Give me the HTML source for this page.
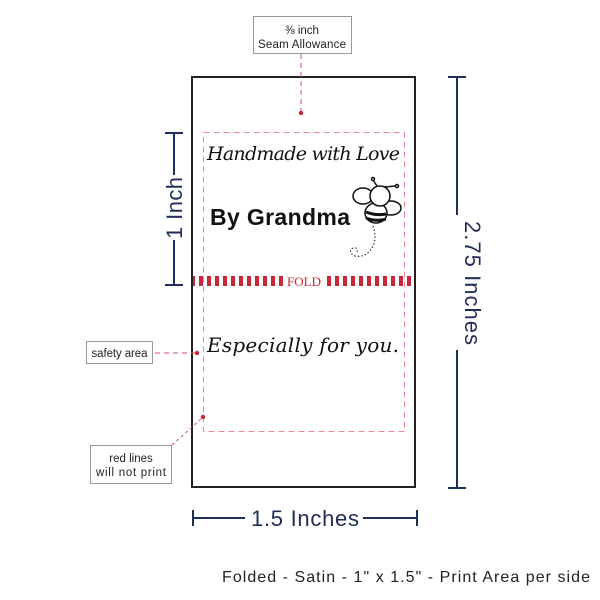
<!DOCTYPE html>
<html><head><meta charset="utf-8"><style>
html,body{margin:0;padding:0;background:#fff;}
svg{display:block;}
</style></head><body>
<svg width="600" height="600" viewBox="0 0 600 600" xmlns="http://www.w3.org/2000/svg" font-family="Liberation Sans, sans-serif">
<defs>
<pattern id="st" x="191" y="0" width="8" height="10" patternUnits="userSpaceOnUse">
<rect x="0" y="0" width="4" height="10" fill="#c8283a"/>
</pattern>
</defs>
<!-- outer label -->
<rect x="192" y="77" width="223" height="410" fill="#fff" stroke="#222" stroke-width="2"/>
<!-- seam allowance box -->
<rect x="253.5" y="16.5" width="98" height="37" fill="#fff" stroke="#999"/>
<text x="302" y="34" font-size="11.5" text-anchor="middle" fill="#222">⅜ inch</text>
<text x="302" y="48" font-size="11.5" text-anchor="middle" fill="#222" textLength="88">Seam Allowance</text>
<line x1="301" y1="54" x2="301" y2="112" stroke="#d05060" stroke-dasharray="5,4"/>
<circle cx="301" cy="113" r="2.2" fill="#c8283a"/>
<!-- safety dashed -->
<rect x="203.5" y="132.5" width="201" height="299" fill="none" stroke="#f08890" stroke-dasharray="6,4"/>
<!-- fold band -->
<rect x="193" y="276" width="92" height="10" fill="url(#st)"/>
<rect x="323" y="276" width="92" height="10" fill="url(#st)"/>
<text x="304" y="286" font-size="13" font-family="Liberation Serif, serif" text-anchor="middle" fill="#c8283a">FOLD</text>
<!-- texts -->
<text x="207" y="160" font-size="19" font-family="DejaVu Serif, serif" font-style="italic" fill="#111" textLength="193">Handmade with Love</text>
<text x="210" y="225" font-size="23" font-weight="bold" fill="#111" textLength="140">By Grandma</text>
<text x="207" y="352" font-size="20" font-family="DejaVu Serif, serif" font-style="italic" fill="#111" textLength="192">Especially for you.</text>
<!-- bee -->
<g fill="#fff" stroke="#111" stroke-width="1.5">
<ellipse cx="363" cy="196" rx="10" ry="8"/>
<ellipse cx="391" cy="208" rx="10" ry="7"/>
<ellipse cx="376" cy="213" rx="11" ry="10"/>
<circle cx="380" cy="196" r="10"/>
<line x1="377" y1="186" x2="373" y2="180"/><circle cx="373" cy="179" r="1.5"/>
<line x1="385" y1="187" x2="395" y2="186"/><circle cx="397" cy="186" r="1.5"/>
</g>
<path d="M366 212 q10 4 20 2 M366 218 q10 4 20 1" stroke="#111" stroke-width="3" fill="none"/>
<path d="M373 226 q4 12 0 20 q-6 12 -18 10 q-8 -4 -2 -8 q5 -1 4 4" stroke="#111" stroke-dasharray="1.5,2" fill="none"/>
<!-- safety area callout -->
<rect x="86.5" y="341.5" width="66" height="22" fill="#fff" stroke="#999"/>
<text x="119.5" y="357" font-size="11.5" text-anchor="middle" fill="#222" textLength="56">safety area</text>
<line x1="155" y1="353" x2="196" y2="353" stroke="#d05060" stroke-dasharray="5,4"/>
<circle cx="197" cy="353" r="2.2" fill="#c8283a"/>
<!-- red lines callout -->
<rect x="90.5" y="445.5" width="81" height="38" fill="#fff" stroke="#999"/>
<text x="131" y="462" font-size="11.5" text-anchor="middle" fill="#222">red lines</text>
<text x="131" y="476" font-size="11.5" text-anchor="middle" fill="#222" textLength="70">will not print</text>
<line x1="172" y1="445" x2="202" y2="418" stroke="#d05060" stroke-dasharray="3,3"/>
<circle cx="203" cy="417" r="2.2" fill="#c8283a"/>
<!-- dimensions -->
<g stroke="#1f2d5a" stroke-width="2" fill="none">
<line x1="165" y1="133" x2="183" y2="133"/><line x1="165" y1="285" x2="183" y2="285"/>
<line x1="174" y1="133" x2="174" y2="175"/><line x1="174" y1="240" x2="174" y2="285"/>
<line x1="448" y1="77" x2="466" y2="77"/><line x1="448" y1="488" x2="466" y2="488"/>
<line x1="457" y1="77" x2="457" y2="215"/><line x1="457" y1="350" x2="457" y2="488"/>
<line x1="193" y1="510" x2="193" y2="526"/><line x1="417" y1="510" x2="417" y2="526"/>
<line x1="193" y1="518" x2="245" y2="518"/><line x1="363" y1="518" x2="417" y2="518"/>
</g>
<text transform="translate(182,208) rotate(-90)" font-size="22" text-anchor="middle" fill="#1f2d5a" textLength="62">1 Inch</text>
<text transform="translate(465,283) rotate(90)" font-size="22" text-anchor="middle" fill="#1f2d5a" textLength="124">2.75 Inches</text>
<text x="305" y="526" font-size="22" text-anchor="middle" fill="#1f2d5a" textLength="108">1.5 Inches</text>
<text x="590" y="582" font-size="16" text-anchor="end" fill="#222" textLength="368">Folded - Satin - 1" x 1.5" - Print Area per side</text>
</svg>
</body></html>
